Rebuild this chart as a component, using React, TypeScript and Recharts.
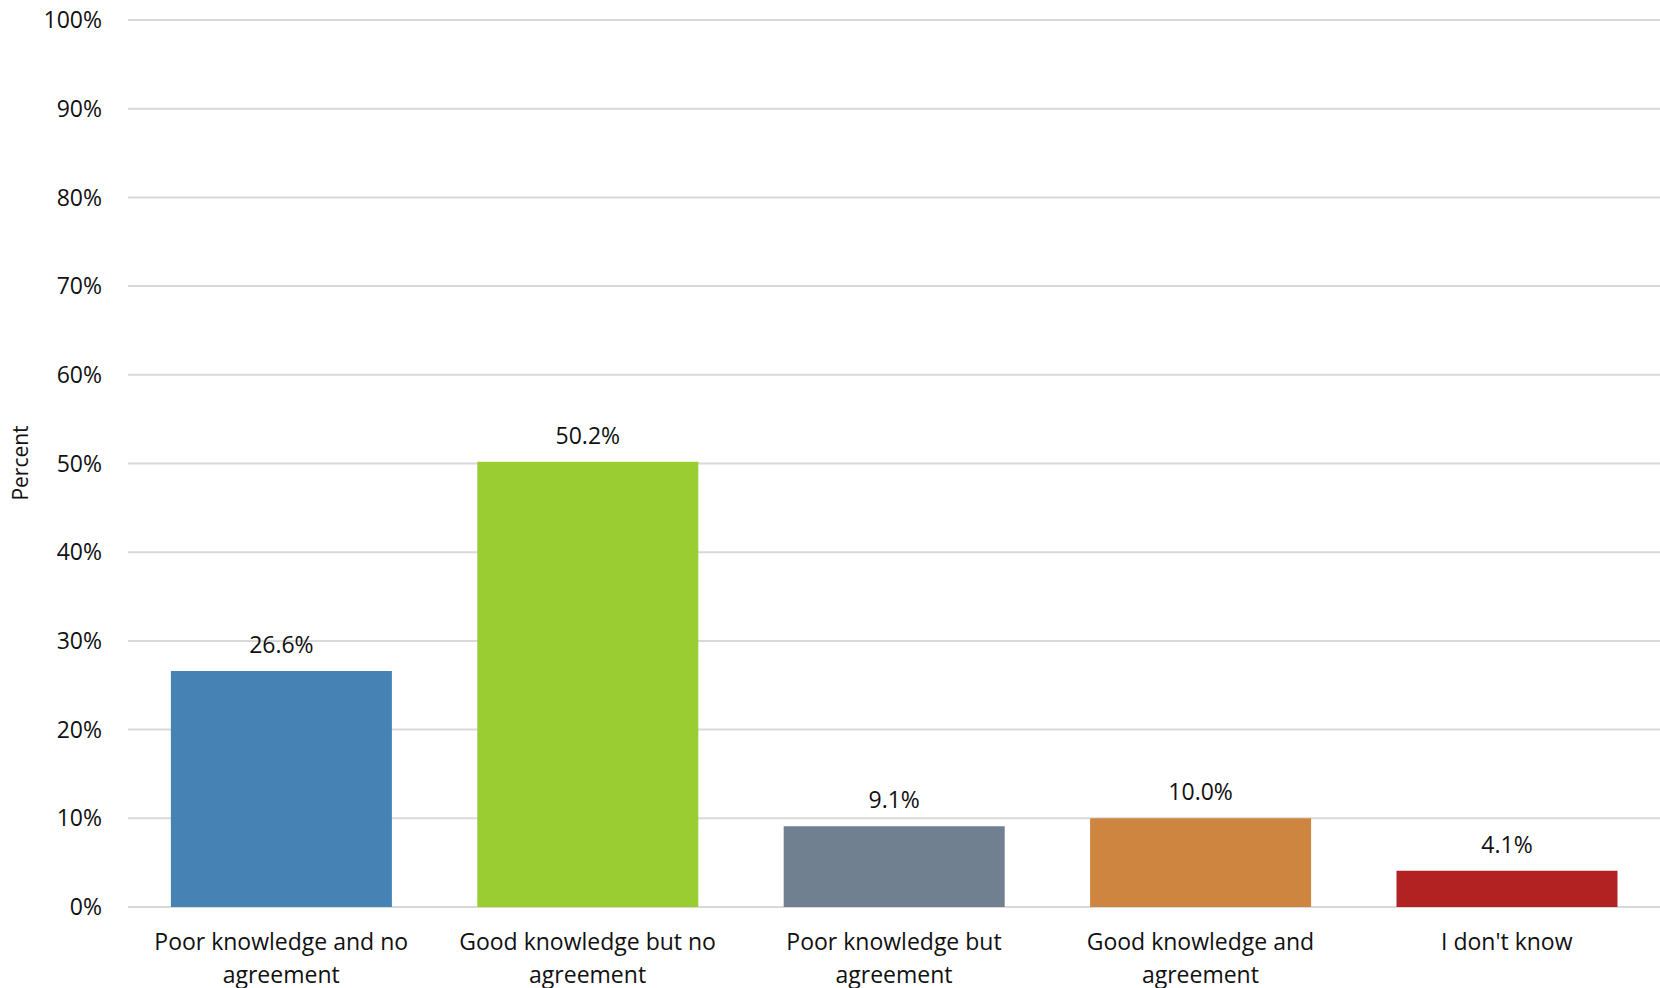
import { BarChart, Bar, XAxis, YAxis, CartesianGrid, Cell, LabelList } from 'recharts'

const categories = [
  'Poor knowledge and no agreement',
  'Good knowledge but no agreement',
  'Poor knowledge but agreement',
  'Good knowledge and agreement',
  "I don't know",
]
const percents = [26.6, 50.2, 9.1, 10.0, 4.1]
const barColors = ['#4682B4', '#9ACD32', '#708090', '#CD853F', '#B22222']
const yTicks = [0, 10, 20, 30, 40, 50, 60, 70, 80, 90, 100]

const data = categories.map((name, i) => ({ name, value: percents[i] }))

const FONT = '"Open Sans", sans-serif'
const TEXT = '#111111'

// greedy wrap by character count, close enough to the original line breaks
function wrap(label: string, max = 22): string[] {
  const lines: string[] = []
  let cur = ''
  for (const w of label.split(' ')) {
    const next = cur ? cur + ' ' + w : w
    if (next.length > max && cur) {
      lines.push(cur)
      cur = w
    } else {
      cur = next
    }
  }
  if (cur) lines.push(cur)
  return lines
}

function CategoryTick({ x, y, payload }: any) {
  const lines = wrap(String(payload.value))
  return (
    <text x={x} y={y} textAnchor="middle" fill={TEXT} fontSize={23} fontFamily={FONT}>
      {lines.map((line, i) => (
        <tspan key={i} x={x} dy={i === 0 ? 43 : 33}>
          {line}
        </tspan>
      ))}
    </text>
  )
}

export default function App() {
  return (
    <div style={{ position: 'absolute', left: 0, top: 0, width: 1660, height: 988, background: '#fff' }}>
      <div
        style={{
          position: 'absolute',
          left: 20,
          top: 463,
          transform: 'translate(-50%, -50%) rotate(-90deg)',
          fontFamily: FONT,
          fontSize: 21,
          color: TEXT,
          whiteSpace: 'nowrap',
        }}
      >
        Percent
      </div>
      <BarChart
        width={1660}
        height={988}
        data={data}
        margin={{ top: 20, right: 0, bottom: 0, left: 0 }}
        barCategoryGap="14%"
      >
        <CartesianGrid vertical={false} stroke="#d9d9d9" strokeWidth={2} />
        <XAxis
          dataKey="name"
          axisLine={false}
          tickLine={false}
          tickSize={0}
          tickMargin={0}
          height={81}
          interval={0}
          tick={<CategoryTick />}
        />
        <YAxis
          domain={[0, 100]}
          ticks={yTicks}
          tickFormatter={(v: number) => `${v}%`}
          axisLine={false}
          tickLine={false}
          tickSize={0}
          tickMargin={26}
          width={128}
          tick={{ fontSize: 23, fill: TEXT, fontFamily: FONT }}
        />
        <Bar dataKey="value" isAnimationActive={false}>
          {data.map((d, i) => (
            <Cell key={d.name} fill={barColors[i]} />
          ))}
          <LabelList
            dataKey="value"
            position="top"
            offset={18}
            formatter={(v: any) => `${Number(v).toFixed(1)}%`}
            style={{ fontSize: 23, fill: TEXT, fontFamily: FONT }}
          />
        </Bar>
      </BarChart>
    </div>
  )
}
